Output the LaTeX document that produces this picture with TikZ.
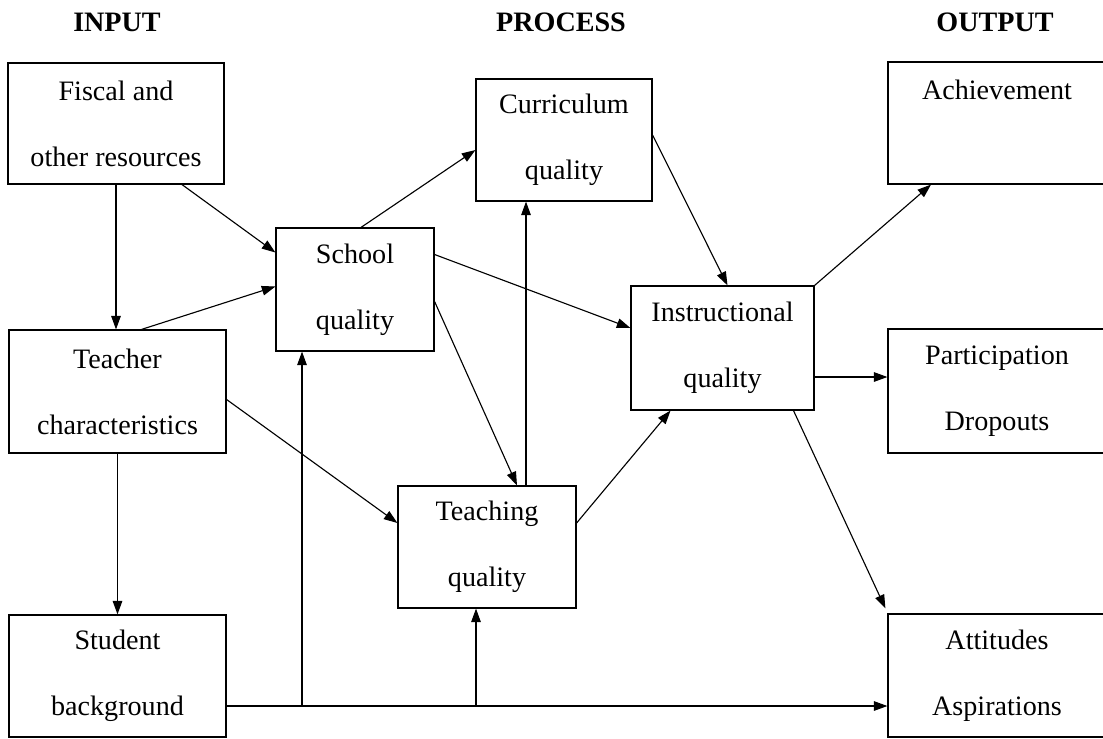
\documentclass[tikz,border=0pt]{standalone}
\usepackage{fontspec}
\setmainfont{Liberation Serif}
\usetikzlibrary{arrows.meta,calc}

\begin{document}
\begin{tikzpicture}[x=0.025cm,y=-0.025cm,
    box/.style={draw,line width=0.8pt,inner sep=0pt,align=center,
      font=\fontsize{20}{47}\selectfont},
    arr/.style={line width=0.8pt,-{Triangle[length=3.4mm,width=2.4mm]}},
    head/.style={font=\fontsize{20}{22}\selectfont\bfseries}]
    \useasboundingbox (0,0) rectangle (1103,738);

    % Column headings
    \node[head] (hin) at (117,22) {INPUT};
    \node[head] (hproc) at (561,22) {PROCESS};
    \node[head] (hout) at (995,22) {OUTPUT};

    % Input boxes
    \node[box,minimum width=5.4cm,minimum height=3.025cm] (fiscal) at (116,123.5) {Fiscal and\\other resources};
    \node[box,minimum width=5.425cm,minimum height=3.075cm] (teacher) at (117.5,391.5) {Teacher\\characteristics};
    \node[box,minimum width=5.425cm,minimum height=3.05cm] (student) at (117.5,676) {Student\\background};

    % Process boxes
    \node[box,minimum width=3.95cm,minimum height=3.075cm] (school) at (355,289.5) {School\\quality};
    \node[box,minimum width=4.4cm,minimum height=3.05cm] (curric) at (564,140) {Curriculum\\quality};
    \node[box,minimum width=4.45cm,minimum height=3.05cm] (teaching) at (487,547) {Teaching\\quality};
    \node[box,minimum width=4.575cm,minimum height=3.1cm] (instr) at (722.5,348) {Instructional\\quality};

    % Output boxes
    \node[box,minimum width=5.45cm,minimum height=3.05cm] (achieve) at (997,123) {Achievement\\\phantom{A}};
    \node[box,minimum width=5.45cm,minimum height=3.1cm] (partic) at (997,391) {Participation\\Dropouts};
    \node[box,minimum width=5.45cm,minimum height=3.075cm] (attit) at (997,675.5) {Attitudes\\Aspirations};

    % Arrows from the inputs
    \draw[arr] (fiscal.south) -- (fiscal.south |- teacher.north);
    \draw[arr] ($(fiscal.south)+(66,0)$) -- ($(school.west)+(0,-37)$);
    \draw[arr] ($(teacher.north)+(24,0)$) -- ($(school.west)+(0,-3)$);
    \draw[arr] ($(teacher.east)+(0,8)$) -- ($(teaching.west)+(0,-24)$);
    \draw[arr] (teacher.south) -- (teacher.south |- student.north);

    % Arrows between the process boxes
    \draw[arr] ($(school.north)+(6,0)$) -- ($(curric.west)+(0,10)$);
    \draw[arr] ($(school.east)+(0,-35)$) -- ($(instr.west)+(0,-20)$);
    \draw[arr] ($(school.east)+(0,12)$) -- ($(teaching.north)+(30,0)$);
    \coordinate (tqup) at ($(teaching.north)+(39,0)$);
    \draw[arr] (tqup) -- (tqup |- curric.south);
    \draw[arr] ($(curric.east)+(0,-5)$) -- ($(instr.north)+(5,0)$);
    \draw[arr] ($(teaching.east)+(0,-24)$) -- ($(instr.south)+(-52,0)$);

    % Arrows to the outputs
    \draw[arr] (instr.north east) -- ($(achieve.south)+(-66,0)$);
    \coordinate (iqout) at ($(instr.east)+(0,29)$);
    \draw[arr] (iqout) -- (iqout -| partic.west);
    \draw[arr] ($(instr.south)+(71,0)$) -- ($(attit.north west)+(-2,-5)$);

    % Student background line
    \coordinate (bus) at ($(student.east)+(0,30)$);
    \draw[arr] (bus) -- (bus -| attit.west);
    \coordinate (sqin) at ($(school.south)+(-53,0)$);
    \coordinate (tqin) at ($(teaching.south)+(-11,0)$);
    \draw[arr] (sqin |- bus) -- (sqin);
    \draw[arr] (tqin |- bus) -- (tqin);
\end{tikzpicture}
\end{document}
